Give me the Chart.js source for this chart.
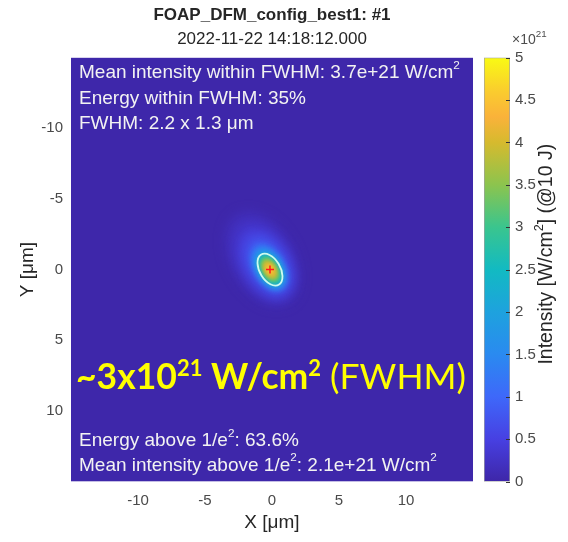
<!DOCTYPE html>
<html>
<head>
<meta charset="utf-8">
<script src="https://cdn.jsdelivr.net/npm/chart.js@4/dist/chart.umd.min.js"></script>
<style>
    html, body { margin: 0; padding: 0; background: #fff; }
    #wrap { position: relative; width: 568px; height: 542px; }
    #chart { position: absolute; left: 0; top: 0; }
    #cbar { position: absolute; left: 484px; top: 0; }
</style>
</head>
<body>
<div id="wrap">
    <canvas id="chart" width="568" height="542"></canvas>
    <canvas id="cbar" width="84" height="542"></canvas>
</div>
<script>
// axes
const axisRange = [-15, 15];
const xTicks = [-10, -5, 0, 5, 10];
const yTicks = [-10, -5, 0, 5, 10];

// focal spot (contour levels in 1e21 W/cm2, semi axes in um)
const backgroundLevel = 0.02;
const spotLevels = [0.2, 0.45, 0.8, 1.2, 1.6, 2.0, 2.5, 3.0, 3.5, 3.9, 4.2, 4.5];
const spotMajor = [3.6, 2.8, 2.2, 1.8, 1.55, 1.36, 1.2, 1.02, 0.86, 0.68, 0.5, 0.3];
const spotMinor = [2.3, 1.75, 1.35, 1.1, 0.93, 0.82, 0.72, 0.62, 0.52, 0.41, 0.3, 0.18];
const spotCenterX = [-0.7, -0.5, -0.32, -0.22, -0.18, -0.15, -0.15, -0.15, -0.15, -0.15, -0.15, -0.15];
const spotCenterY = [-0.75, -0.5, -0.3, -0.15, -0.08, -0.03, 0, 0, 0, 0, 0, 0];
const spotAngle = 57; // degrees
const fwhmAxes = [1.25, 0.76];

// peak marker
const peakX = [-0.15];
const peakY = [0];

// colorbar
const cbarMax = 5;
const cbarTicks = [0, 0.5, 1, 1.5, 2, 2.5, 3, 3.5, 4, 4.5, 5];

// parula-like colour map
const cmapStops = [0, 0.1, 0.2, 0.3, 0.4, 0.5, 0.6, 0.7, 0.8, 0.86, 0.92, 1];
const cmapColors = [
    [62, 38, 168], [71, 64, 226], [62, 104, 250], [42, 138, 240],
    [30, 162, 222], [18, 186, 194], [58, 197, 142], [140, 196, 78],
    [214, 186, 46], [250, 178, 58], [250, 204, 46], [249, 250, 20],
];

// texts
const titleLines = ["FOAP_DFM_config_best1: #1", "2022-11-22 14:18:12.000"];
const topNotes = [
    [{ t: "Mean intensity within FWHM: 3.7e+21 W/cm" }, { t: "2", sup: true }],
    [{ t: "Energy within FWHM: 35%" }],
    [{ t: "FWHM: 2.2 x 1.3 μm" }],
];
const bottomNotes = [
    [{ t: "Energy above 1/e" }, { t: "2", sup: true }, { t: ": 63.6%" }],
    [{ t: "Mean intensity above 1/e" }, { t: "2", sup: true }, { t: ": 2.1e+21 W/cm" }, { t: "2", sup: true }],
];
const highlight = [
    { t: "~3x10", b: true }, { t: "21", b: true, sup: true },
    { t: " W/cm", b: true }, { t: "2", b: true, sup: true }, { t: " (FWHM)" },
];

const sans = "'Liberation Sans', Arial, sans-serif";

function parula(v) {
    const t = Math.max(0, Math.min(1, v / cbarMax));
    for (let i = 1; i < cmapStops.length; i++) {
        if (t <= cmapStops[i]) {
            const f = (t - cmapStops[i - 1]) / (cmapStops[i] - cmapStops[i - 1]);
            const a = cmapColors[i - 1], b = cmapColors[i];
            const c = a.map((v, k) => Math.round(v + (b[k] - v) * f));
            return `rgb(${c[0]},${c[1]},${c[2]})`;
        }
    }
    const c = cmapColors[cmapColors.length - 1];
    return `rgb(${c[0]},${c[1]},${c[2]})`;
}

// draw text with superscripts, returns end x
function drawRich(ctx, parts, x, y, size, family, supScale, supRise) {
    parts.forEach((p) => {
        const s = p.sup ? size * supScale : size;
        ctx.font = `${p.b ? "bold " : ""}${s}px ${family}`;
        ctx.fillText(p.t, x, p.sup ? y - size * supRise : y);
        x += ctx.measureText(p.t).width;
    });
    return x;
}

function ellipsePath(ctx, xs, ys, cx, cy, a, b) {
    const sx = Math.abs(xs.getPixelForValue(1) - xs.getPixelForValue(0));
    const sy = Math.abs(ys.getPixelForValue(1) - ys.getPixelForValue(0));
    ctx.save();
    ctx.translate(xs.getPixelForValue(cx), ys.getPixelForValue(cy));
    ctx.scale(sx, sy);
    ctx.rotate((spotAngle * Math.PI) / 180);
    ctx.beginPath();
    ctx.ellipse(0, 0, a, b, 0, 0, 2 * Math.PI);
    ctx.restore();
}

const spotPlugin = {
    id: "spot",
    beforeDatasetsDraw(chart) {
        const { ctx, chartArea: a, scales: { x, y } } = chart;
        ctx.save();
        ctx.beginPath();
        ctx.rect(a.left, a.top, a.width, a.height);
        ctx.clip();
        ctx.fillStyle = parula(backgroundLevel);
        ctx.fillRect(a.left, a.top, a.width, a.height);

        spotLevels.forEach((v, i) => {
            // wider blur on the faint halo, tighter near the core
            ctx.filter = i < 3 ? "blur(6px)" : i < 6 ? "blur(3px)" : "blur(2px)";
            ellipsePath(ctx, x, y, spotCenterX[i], spotCenterY[i], spotMajor[i], spotMinor[i]);
            ctx.fillStyle = parula(v);
            ctx.fill();
        });

        ctx.filter = "blur(0.4px)";
        ellipsePath(ctx, x, y, peakX[0], peakY[0], fwhmAxes[0], fwhmAxes[1]);
        ctx.strokeStyle = "rgba(215,255,240,0.95)";
        ctx.lineWidth = 1.8;
        ctx.stroke();
        ctx.restore();
    },
    afterDraw(chart) {
        const { ctx, chartArea: a } = chart;
        const cx = (a.left + a.right) / 2;
        ctx.save();
        ctx.textBaseline = "alphabetic";
        ctx.textAlign = "center";
        ctx.fillStyle = "#262626";
        ctx.font = `bold 17px ${sans}`;
        ctx.fillText(titleLines[0], cx, 20);
        ctx.font = `17px ${sans}`;
        ctx.fillText(titleLines[1], cx, 44);

        ctx.textAlign = "left";
        ctx.fillStyle = "#f2f2f2";
        topNotes.forEach((line, i) => drawRich(ctx, line, a.left + 8, 78 + i * 25.5, 19, sans, 0.62, 0.5));
        bottomNotes.forEach((line, i) => drawRich(ctx, line, a.left + 8, 446 + i * 24.5, 19, sans, 0.62, 0.5));

        ctx.fillStyle = "#ffff00";
        drawRich(ctx, highlight, a.left + 5, 389, 35.5, "Lato, 'Open Sans', sans-serif", 0.62, 0.36);
        ctx.restore();
    },
};

const tickFont = { family: sans, size: 15 };

new Chart(document.getElementById("chart"), {
    type: "scatter",
    data: {
        datasets: [
            {
                label: "peak",
                data: peakX.map((v, i) => ({ x: v, y: peakY[i] })),
                pointStyle: "cross",
                radius: 4,
                borderColor: "#ff1a1a",
                borderWidth: 1.5,
            },
        ],
    },
    options: {
        responsive: false,
        animation: false,
        layout: { padding: { left: 11, top: 57.6, right: 95, bottom: 7.4 } },
        plugins: { legend: { display: false }, tooltip: { enabled: false } },
        scales: {
            x: {
                min: axisRange[0],
                max: axisRange[1],
                afterBuildTicks: (s) => { s.ticks = xTicks.map((v) => ({ value: v })); },
                afterFit: (s) => { s.height = 53; },
                ticks: { font: tickFont, color: "#4a4a4a", padding: 10 },
                grid: { display: false, drawTicks: false },
                border: { display: false },
                title: { display: true, text: "X [μm]", font: { family: sans, size: 19 }, color: "#262626", padding: 0 },
            },
            y: {
                reverse: true,
                min: axisRange[0],
                max: axisRange[1],
                afterBuildTicks: (s) => { s.ticks = yTicks.map((v) => ({ value: v })); },
                afterFit: (s) => { s.width = 60; },
                ticks: { font: tickFont, color: "#4a4a4a", padding: 8 },
                grid: { display: false, drawTicks: false },
                border: { display: false },
                title: { display: true, text: "Y [μm]", font: { family: sans, size: 19 }, color: "#262626", padding: 5 },
            },
        },
    },
    plugins: [spotPlugin],
});

const cbarPlugin = {
    id: "cbarText",
    afterDraw(chart) {
        const { ctx, chartArea: a, scales: { y } } = chart;
        ctx.save();
        // inner tick marks
        ctx.strokeStyle = "#333";
        ctx.lineWidth = 1;
        cbarTicks.forEach((v) => {
            const py = Math.round(y.getPixelForValue(v)) + 0.5;
            ctx.beginPath();
            ctx.moveTo(a.right - 4, py);
            ctx.lineTo(a.right, py);
            ctx.stroke();
        });
        ctx.fillStyle = "#4d4d4d";
        ctx.textAlign = "left";
        drawRich(ctx, [{ t: "×10" }, { t: "21", sup: true }], 28, 44, 14, sans, 0.7, 0.5);
        ctx.translate(68, 257);
        ctx.rotate(-Math.PI / 2);
        ctx.textAlign = "left";
        ctx.fillStyle = "#262626";
        const parts = [{ t: "Intensity [W/cm" }, { t: "2", sup: true }, { t: "] (@10 J)" }];
        let w = 0;
        parts.forEach((p) => {
            ctx.font = `${p.sup ? 19 * 0.65 : 19}px ${sans}`;
            w += ctx.measureText(p.t).width;
        });
        drawRich(ctx, parts, -w / 2, 0, 19.5, sans, 0.65, 0.45);
        ctx.restore();
    },
};

new Chart(document.getElementById("cbar"), {
    type: "bar",
    data: {
        labels: ["I"],
        datasets: [
            {
                data: [cbarMax],
                barPercentage: 1,
                categoryPercentage: 1,
                borderColor: "#a0a0a0",
                borderWidth: 1,
                borderSkipped: false,
                backgroundColor: (c) => {
                    const { ctx, chartArea, scales } = c.chart;
                    if (!chartArea) return "rgb(62,38,168)";
                    const y = scales.y;
                    const g = ctx.createLinearGradient(0, y.getPixelForValue(0), 0, y.getPixelForValue(cbarMax));
                    cmapStops.forEach((s) => g.addColorStop(s, parula(s * cbarMax)));
                    return g;
                },
            },
        ],
    },
    options: {
        responsive: false,
        animation: false,
        layout: { padding: { left: 0, top: 57.6, bottom: 60.4, right: 0 } },
        plugins: { legend: { display: false }, tooltip: { enabled: false } },
        scales: {
            x: { display: false },
            y: {
                position: "right",
                min: 0,
                max: cbarMax,
                afterBuildTicks: (s) => { s.ticks = cbarTicks.map((v) => ({ value: v })); },
                afterFit: (s) => { s.width = 58; },
                ticks: { font: tickFont, color: "#4a4a4a", padding: 5, callback: (v) => String(v) },
                grid: { display: false, drawTicks: false },
                border: { display: false },
            },
        },
    },
    plugins: [cbarPlugin],
});
</script>
</body>
</html>
